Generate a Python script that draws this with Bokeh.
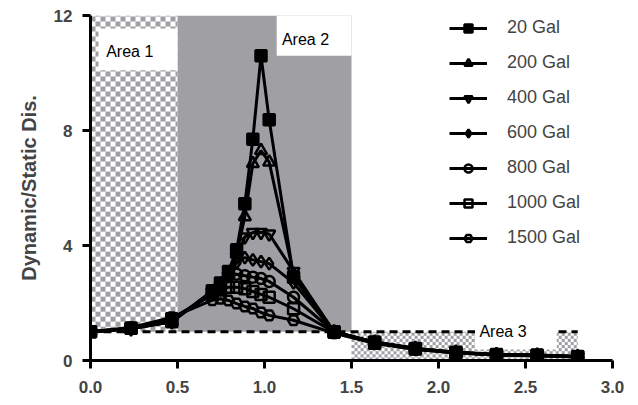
import numpy as np
from bokeh.plotting import figure
from bokeh.models import FixedTicker, Label, Legend, LegendItem, NumeralTickFormatter
from bokeh.embed import file_html
from bokeh.resources import INLINE

# ---- data ----
freq_ratio = [0.0, 0.233, 0.467, 0.7, 0.747, 0.793, 0.84, 0.887, 0.933, 0.98, 1.027,
              1.167, 1.4, 1.633, 1.867, 2.1, 2.333, 2.567, 2.8]
gal_20 = [1.0, 1.12, 1.35, 2.43, 2.7, 3.1, 3.85, 5.45, 7.7, 10.6, 8.37,
          2.9, 1.0, 0.64, 0.42, 0.29, 0.21, 0.19, 0.14]
gal_200 = [1.0, 1.1, 1.35, 2.4, 2.65, 3.0, 3.7, 5.0, 6.85, 7.3, 6.9,
           3.0, 1.0, 0.64, 0.42, 0.29, 0.21, 0.19, 0.14]
gal_400 = [1.0, 1.1, 1.35, 2.4, 2.6, 2.95, 3.6, 4.3, 4.45, 4.45, 4.4,
           3.1, 1.0, 0.64, 0.42, 0.28, 0.21, 0.18, 0.14]
gal_600 = [1.0, 1.1, 1.4, 2.35, 2.6, 3.0, 3.4, 3.58, 3.5, 3.44, 3.37,
           2.7, 1.0, 0.63, 0.41, 0.28, 0.2, 0.18, 0.13]
gal_800 = [1.0, 1.12, 1.45, 2.3, 2.55, 2.95, 3.0, 2.95, 2.9, 2.85, 2.75,
           2.2, 1.0, 0.62, 0.4, 0.27, 0.2, 0.17, 0.13]
gal_1000 = [1.0, 1.12, 1.45, 2.3, 2.45, 2.55, 2.55, 2.5, 2.4, 2.3, 2.2,
            1.8, 0.98, 0.6, 0.4, 0.27, 0.2, 0.17, 0.13]
gal_1500 = [1.0, 1.15, 1.5, 2.1, 2.15, 2.09, 1.98, 1.88, 1.81, 1.67, 1.57,
            1.4, 0.95, 0.6, 0.38, 0.26, 0.19, 0.16, 0.12]

series_names = ["20 Gal", "200 Gal", "400 Gal", "600 Gal", "800 Gal", "1000 Gal", "1500 Gal"]
series_values = [gal_20, gal_200, gal_400, gal_600, gal_800, gal_1000, gal_1500]
series_markers = ["square", "triangle", "inverted_triangle", "diamond", "circle", "square", "hex"]
series_filled = [True, False, False, False, False, False, False]

x_ticks = [0.0, 0.5, 1.0, 1.5, 2.0, 2.5, 3.0]
y_ticks = [0, 4, 8, 12]

# shaded areas (x0, x1, y0, y1)
area1 = [0.0, 0.5, 1.0, 12.0]
area2 = [0.5, 1.5, 1.0, 12.0]
area3 = [1.5, 2.8, 0.0, 1.0]
# white label boxes
box_left = [0.046, 1.07, 2.21]
box_right = [0.5, 1.5, 2.68]
box_bottom = [10.1, 10.6, 0.38]
box_top = [11.55, 12.0, 1.06]
label_texts = ["Area 1", "Area 2", "Area 3"]
label_x = [0.09, 1.1, 2.235]
label_y = [10.75, 11.15, 1.0]
ref_x = [0.0, 2.8]
ref_y = [1.0, 1.0]

GRAY = (160, 159, 164)

p = figure(width=630, height=398, x_range=(0, 3), y_range=(0, 12),
           output_backend="svg", toolbar_location=None,
           min_border_left=90, min_border_right=18, min_border_top=15, min_border_bottom=38)
p.outline_line_color = None
p.grid.visible = False


def checker(w_px, h_px, cell):
    yy, xx = np.mgrid[0:h_px, 0:w_px]
    mask = ((xx // cell + yy // cell) % 2) == 0
    img = np.empty((h_px, w_px), dtype=np.uint32)
    view = img.view(dtype=np.uint8).reshape((h_px, w_px, 4))
    view[..., 3] = 255
    for k in range(3):
        view[..., k] = np.where(mask, GRAY[k], 255)
    return img


img1 = checker(87, 316, 5)
p.image_rgba(image=[img1], x=area1[0], y=area1[2], dw=area1[1] - area1[0], dh=area1[3] - area1[2])
img3 = checker(226, 29, 3)
p.image_rgba(image=[img3], x=area3[0], y=area3[2], dw=area3[1] - area3[0], dh=area3[3] - area3[2])
p.quad(left=[area2[0]], right=[area2[1]], bottom=[area2[2]], top=[area2[3]],
       fill_color="#a09fa4", line_color=None)

p.line(ref_x, ref_y, line_color="black", line_width=3, line_dash="8 5")

p.quad(left=box_left, right=box_right, bottom=box_bottom, top=box_top,
       fill_color="white", line_color=None)

items = []
renderers = {}
for name, ys, mk, filled in reversed(list(zip(series_names, series_values, series_markers, series_filled))):
    r1 = p.line(freq_ratio, ys, line_color="black", line_width=3)
    r2 = p.scatter(freq_ratio, ys, marker=mk, size=11 if mk in ("square", "circle", "hex") else 12,
                   line_color="black", line_width=2.5,
                   fill_color="black" if filled else None)
    renderers[name] = [r1, r2]
for name in series_names:
    items.append(LegendItem(label=name, renderers=renderers[name]))

for t, lx, ly in zip(label_texts, label_x, label_y):
    p.add_layout(Label(x=lx, y=ly, text=t, text_font="Liberation Sans", text_font_size="16px",
                       text_baseline="middle", text_color="black"))

legend = Legend(items=items, location=(359, 112), glyph_width=38, glyph_height=20,
                label_height=20, spacing=14, padding=0, margin=0, label_standoff=20,
                border_line_color=None, background_fill_alpha=0,
                label_text_font="Liberation Sans", label_text_font_size="18px")
p.add_layout(legend)

for ax in (p.xaxis[0], p.yaxis[0]):
    ax.axis_line_width = 3
    ax.major_tick_line_width = 3
    ax.major_tick_out = 8
    ax.major_tick_in = 0
    ax.minor_tick_line_color = None
    ax.major_label_text_font = "Liberation Sans"
    ax.major_label_text_font_style = "bold"
    ax.major_label_text_font_size = "17px"
    ax.major_label_standoff = 10

p.xaxis[0].major_label_standoff = 12
p.xaxis.ticker = FixedTicker(ticks=x_ticks)
p.yaxis.ticker = FixedTicker(ticks=y_ticks)
p.xaxis.formatter = NumeralTickFormatter(format="0.0")
p.yaxis.formatter = NumeralTickFormatter(format="0")
p.yaxis.axis_label = "Dynamic/Static Dis."
p.yaxis.axis_label_text_font = "Liberation Sans"
p.yaxis.axis_label_text_font_style = "bold"
p.yaxis.axis_label_text_font_size = "20px"
p.yaxis.axis_label_standoff = 11

open("out.html", "w").write(file_html(p, INLINE))
